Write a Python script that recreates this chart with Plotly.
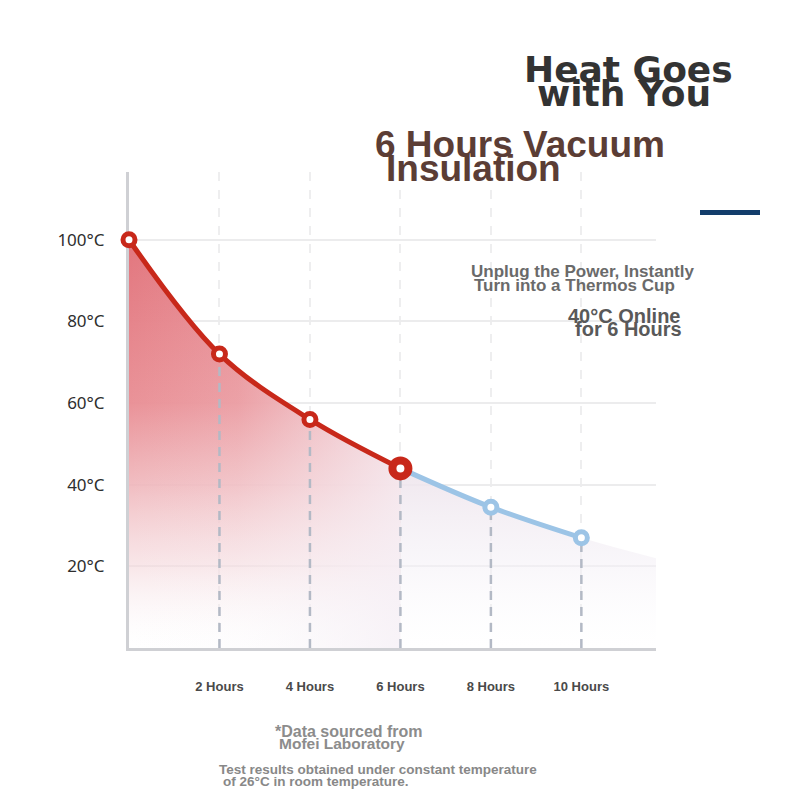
import plotly.graph_objects as go

# ---------------- data ----------------
hours = [0, 2, 4, 6, 8, 10]
temps = [100, 72, 56, 44, 34.5, 27]
hot_idx = 4          # points 0..6 h (indices 0..3) drawn red
x_ticks = [2, 4, 6, 8, 10]
x_tick_labels = ["2 Hours", "4 Hours", "6 Hours", "8 Hours", "10 Hours"]
y_ticks = [20, 40, 60, 80, 100]
y_tick_labels = ["20°C", "40°C", "60°C", "80°C", "100°C"]
tail_x = [11.65]     # fade of shaded area beyond the last reading
tail_y = [22]

title_lines = ["Heat Goes", "with You"]
subtitle_lines = ["6 Hours Vacuum", "Insulation"]
note_lines = ["Unplug the Power, Instantly", "Turn into a Thermos Cup"]
claim_lines = ["40°C Online", "for 6 Hours"]
source_lines = ["*Data sourced from", "Mofei Laboratory"]
cond_lines = ["Test results obtained under constant temperature", "of 26°C in room temperature."]

RED = "#c8281a"
BLUE = "#9cc4e6"

hot_x, hot_y = hours[:hot_idx], temps[:hot_idx]
cool_x, cool_y = hours[hot_idx - 1:], temps[hot_idx - 1:]

fig = go.Figure()

# red shaded area (vertical fade)
fig.add_trace(go.Scatter(
    x=hot_x, y=hot_y, mode="lines", line=dict(width=0, shape="spline"),
    fill="tozeroy",
    fillgradient=dict(type="vertical", start=0, stop=100, colorscale=[
        [0, "rgba(250,246,248,0)"],
        [0.2, "rgba(244,214,218,0.6)"],
        [0.4, "rgba(239,180,185,0.88)"],
        [0.6, "rgba(233,143,149,0.97)"],
        [1, "rgba(226,118,126,1)"]]),
    hoverinfo="skip", showlegend=False))
# lighten towards the right
fig.add_trace(go.Scatter(
    x=hot_x, y=hot_y, mode="lines", line=dict(width=0, shape="spline"),
    fill="tozeroy",
    fillgradient=dict(type="horizontal", start=0, stop=6, colorscale=[
        [0, "rgba(248,244,248,0)"],
        [0.4, "rgba(248,244,248,0.15)"],
        [1, "rgba(246,240,246,0.82)"]]),
    hoverinfo="skip", showlegend=False))
# cool shaded area
fig.add_trace(go.Scatter(
    x=cool_x + tail_x, y=cool_y + tail_y, mode="lines",
    line=dict(width=0, shape="spline"), fill="tozeroy",
    fillgradient=dict(type="vertical", start=0, stop=44, colorscale=[
        [0, "rgba(250,249,252,0)"],
        [0.5, "rgba(244,240,246,0.6)"],
        [1, "rgba(238,228,236,0.9)"]]),
    hoverinfo="skip", showlegend=False))

# drop lines
dx, dy = [], []
for h, t in zip(hours[1:], temps[1:]):
    dx += [h, h, None]
    dy += [0, t, None]
fig.add_trace(go.Scatter(x=dx, y=dy, mode="lines",
                         line=dict(color="#b3b9c5", width=2.5, dash="9px,7px"),
                         hoverinfo="skip", showlegend=False))

# lines
fig.add_trace(go.Scatter(x=cool_x, y=cool_y, mode="lines", cliponaxis=False,
                         line=dict(color=BLUE, width=5, shape="spline"), showlegend=False))
fig.add_trace(go.Scatter(x=hot_x, y=hot_y, mode="lines", cliponaxis=False,
                         line=dict(color=RED, width=5, shape="spline"), showlegend=False))
# markers
fig.add_trace(go.Scatter(x=hours[hot_idx:], y=temps[hot_idx:], mode="markers",
                         cliponaxis=False,
                         marker=dict(size=12, color="#ffffff", opacity=1,
                                     line=dict(color=BLUE, width=5)),
                         showlegend=False))
fig.add_trace(go.Scatter(x=hours[:hot_idx - 1], y=temps[:hot_idx - 1], mode="markers",
                         cliponaxis=False,
                         marker=dict(size=12, color="#ffffff", opacity=1,
                                     line=dict(color=RED, width=5)),
                         showlegend=False))
fig.add_trace(go.Scatter(x=hours[hot_idx - 1:hot_idx], y=temps[hot_idx - 1:hot_idx],
                         mode="markers", cliponaxis=False,
                         marker=dict(size=16, color="#ffffff", opacity=1,
                                     line=dict(color=RED, width=8)),
                         showlegend=False))

OFF = 8  # page body margin
L, R, T, B = 129 - OFF, 656 - OFF, 172 - OFF, 648 - OFF
W = H = 800 - OFF


def px(x):
    return (x - OFF - L) / (R - L)


def py(y):
    return (B - (y - OFF)) / (B - T)


def note(text, cx, cy, size, color, family="Liberation Sans", bold=True):
    fig.add_annotation(
        text=f"<b>{text}</b>" if bold else text, x=px(cx), y=py(cy),
        xref="paper", yref="paper", showarrow=False, xanchor="center", yanchor="middle",
        font=dict(family=family, size=size, color=color))


note(title_lines[0], 628, 69, 36, "#333333", "DejaVu Sans")
note(title_lines[1], 624, 94, 36, "#333333", "DejaVu Sans")
note(subtitle_lines[0], 520, 144, 37, "#5b3d35")
note(subtitle_lines[1], 473, 168, 37, "#5b3d35")
note(note_lines[0], 582, 271, 17, "#6a6a6a")
note(note_lines[1], 574, 285, 17, "#6a6a6a")
note(claim_lines[0], 624, 316, 20, "#595959")
note(claim_lines[1], 628, 329, 20, "#595959")
note(source_lines[0], 349, 731, 16, "#8c8c8c")
note(source_lines[1], 342, 743, 15.5, "#8c8c8c")
note(cond_lines[0], 378, 769, 13.5, "#888888")
note(cond_lines[1], 315, 781, 13.5, "#888888")

fig.add_shape(type="rect", xref="paper", yref="paper",
              x0=px(700), x1=px(760), y0=py(215), y1=py(210),
              fillcolor="#133d6b", line=dict(width=0))

fig.update_layout(
    width=W, height=H,
    margin=dict(l=L, r=W - R, t=T, b=H - B),
    paper_bgcolor="#ffffff", plot_bgcolor="rgba(0,0,0,0)",
    xaxis=dict(range=[0, 11.65], tickvals=x_ticks, ticktext=x_tick_labels,
               showgrid=True, gridcolor="#eeeeef", gridwidth=2, griddash="dash",
               showline=True, linecolor="#cfd0d4", linewidth=3, zeroline=False,
               ticks="", ticklabelstandoff=24, layer="below traces",
               tickfont=dict(family="Liberation Sans", size=13, color="#4a4a4a", weight="bold")),
    yaxis=dict(range=[0, 116.6], tickvals=y_ticks, ticktext=y_tick_labels,
               showgrid=True, gridcolor="#ececed", gridwidth=2,
               showline=True, linecolor="#cfd0d4", linewidth=3, zeroline=False,
               ticks="", ticklabelstandoff=18, layer="below traces",
               tickfont=dict(family="Noto Sans", size=17, color="#2e2e2e")),
)

fig.write_html("out.html")
